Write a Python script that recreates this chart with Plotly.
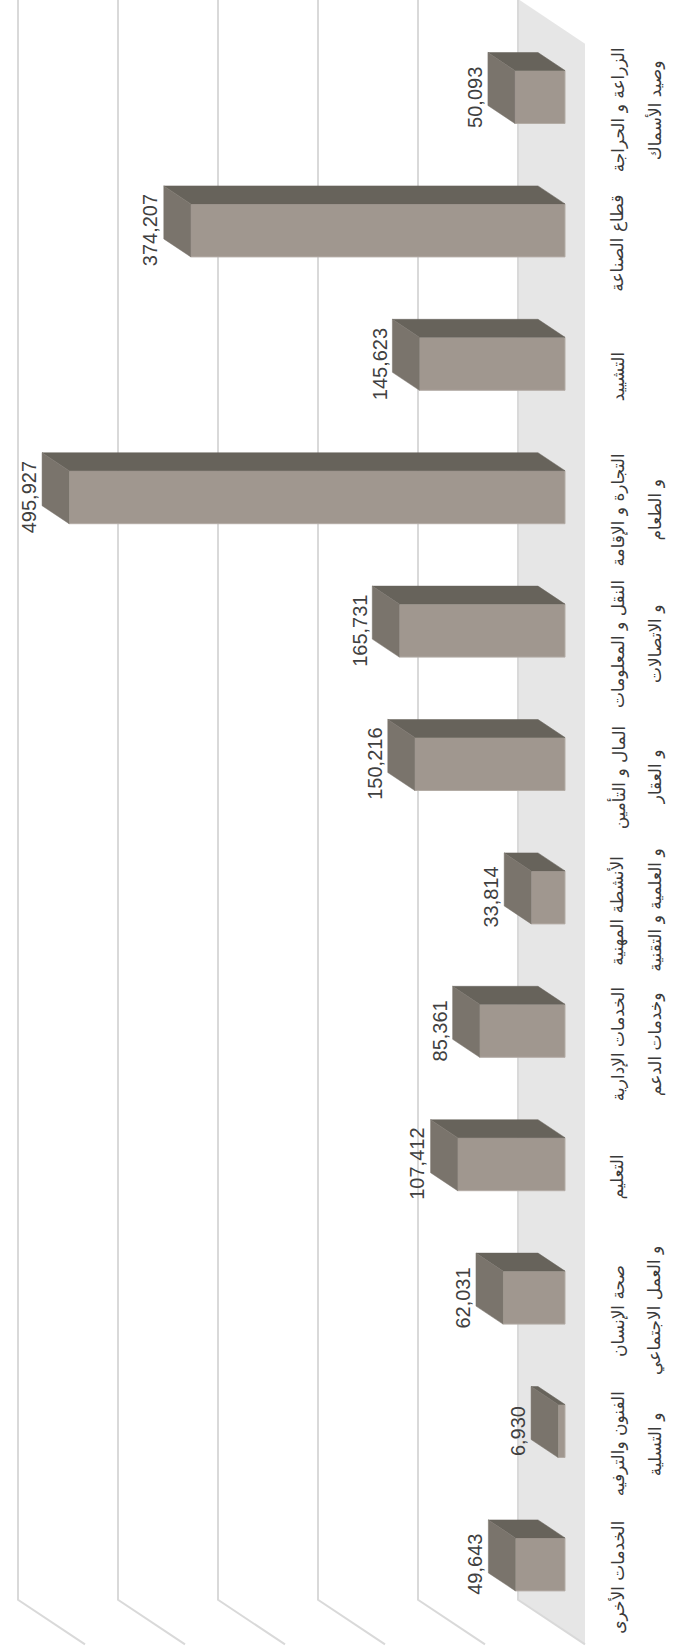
import plotly.graph_objects as go

# ---- data ----
categories = [
    "الزراعة و الحراجة<br>وصيد الأسماك",
    "قطاع الصناعة",
    "التشييد",
    "التجارة و الإقامة<br>و الطعام",
    "النقل و المعلومات<br>و الاتصالات",
    "المال و التأمين<br>و العقار",
    "الأنشطة المهنية<br>و العلمية و التقنية",
    "الخدمات الإدارية<br>وخدمات الدعم",
    "التعليم",
    "صحة الإنسان<br>و العمل الاجتماعي",
    "الفنون والترفيه<br>و التسلية",
    "الخدمات الأخرى",
]
values = [50093, 374207, 145623, 495927, 165731, 150216, 33814, 85361, 107412, 62031, 6930, 49643]
grid_values = [0, 100000, 200000, 300000, 400000, 500000]

# ---- layout constants ----
W, H = 700, 1649
PX_V = 1000.0          # value units per pixel
CAT_PX = 133.4         # pixels per category
SLOPE = 2.0 / 3.0      # vertical/horizontal ratio of depth projection
X0_PX = 565            # pixel of value 0 on bar front plane
Y0_PX = 97             # pixel of first category centre
BAR_H = 53 / CAT_PX
BAR_D = 27
BACK = 47
FRONT = -20

n = len(categories)
idx = list(range(n))


def proj(v, c, d):
    return v + d * PX_V, c - d * SLOPE / CAT_PX


def path_of(points, close=True):
    s = ""
    for k, (x, y) in enumerate(points):
        s += ("M" if k == 0 else "L") + f"{x},{y} "
    return s + ("Z" if close else "")


shapes = []
# floor (behind bars)
floor_pts = [proj(0, c, d) for c, d in [(-0.5, BACK), (-0.5, FRONT), (n - 0.5, FRONT), (n - 0.5, BACK)]]
shapes.append(dict(type="path", path=path_of(floor_pts), xref="x", yref="y", layer="below",
                   fillcolor="#e6e6e6", line=dict(width=0)))
# gridlines (behind bars)
for g in grid_values:
    pts = [proj(g, c, d) for c, d in [(-1.5, BACK), (n - 0.5, BACK), (n - 0.5, FRONT)]]
    shapes.append(dict(type="path", path=path_of(pts, close=False), xref="x", yref="y", layer="below",
                       line=dict(color="#d9d9d9", width=2)))

fig = go.Figure()

# bar front faces
fig.add_trace(go.Bar(x=values, y=idx, orientation="h", width=BAR_H, base=0,
                     marker=dict(color="#a0978f", line=dict(color="#b3aca5", width=1)),
                     hoverinfo="skip"))

# top faces and end caps
tx, ty, ex, ey = [], [], [], []
for v, c in zip(values, idx):
    t = c - BAR_H / 2
    b = c + BAR_H / 2
    for pv, pc, pd in [(0, t, 0), (v, t, 0), (v, t, BAR_D), (0, t, BAR_D), (0, t, 0)]:
        x, y = proj(pv, pc, pd)
        tx.append(x); ty.append(y)
    tx.append(None); ty.append(None)
    for pv, pc, pd in [(v, t, 0), (v, b, 0), (v, b, BAR_D), (v, t, BAR_D), (v, t, 0)]:
        x, y = proj(pv, pc, pd)
        ex.append(x); ey.append(y)
    ex.append(None); ey.append(None)
fig.add_trace(go.Scatter(x=tx, y=ty, mode="lines", fill="toself", fillcolor="#67635b",
                         line=dict(width=0.5, color="#67635b"), hoverinfo="skip"))
fig.add_trace(go.Scatter(x=ex, y=ey, mode="lines", fill="toself", fillcolor="#7a746c",
                         line=dict(width=0.5, color="#7a746c"), hoverinfo="skip"))

annotations = []
# value labels
for v, c in zip(values, idx):
    x, _ = proj(v, c, BAR_D + 13)
    annotations.append(dict(x=x, y=c, xref="x", yref="y", text=f"{v:,}", showarrow=False,
                            textangle=-90, xanchor="center", yanchor="middle", borderpad=0,
                            font=dict(family="Liberation Sans, Arial, sans-serif",
                                      size=20, color="#404040")))

# category labels
LINE_D = [-53, -90]
for lab, c in zip(categories, idx):
    _, yc = proj(0, c, FRONT)
    for j, line in enumerate(lab.split("<br>")):
        x, _ = proj(0, c, LINE_D[j])
        annotations.append(dict(x=x, y=yc, xref="x", yref="y", text=line, showarrow=False,
                                textangle=-90, xanchor="center", yanchor="middle", borderpad=0,
                                font=dict(family="DejaVu Sans, Noto Sans, sans-serif",
                                          size=17, color="#3a3a3a")))

fig.update_layout(
    width=W, height=H, autosize=False,
    margin=dict(l=0, r=0, t=0, b=0, pad=0),
    paper_bgcolor="white", plot_bgcolor="white",
    showlegend=False,
    shapes=shapes,
    annotations=annotations,
    xaxis=dict(range=[X0_PX * PX_V, (X0_PX - W) * PX_V], visible=False, fixedrange=True),
    yaxis=dict(range=[(H - Y0_PX) / CAT_PX, -Y0_PX / CAT_PX], visible=False, fixedrange=True),
)

fig.write_html("out.html", config={"displayModeBar": False},
               post_script="document.body.style.margin='0';")
